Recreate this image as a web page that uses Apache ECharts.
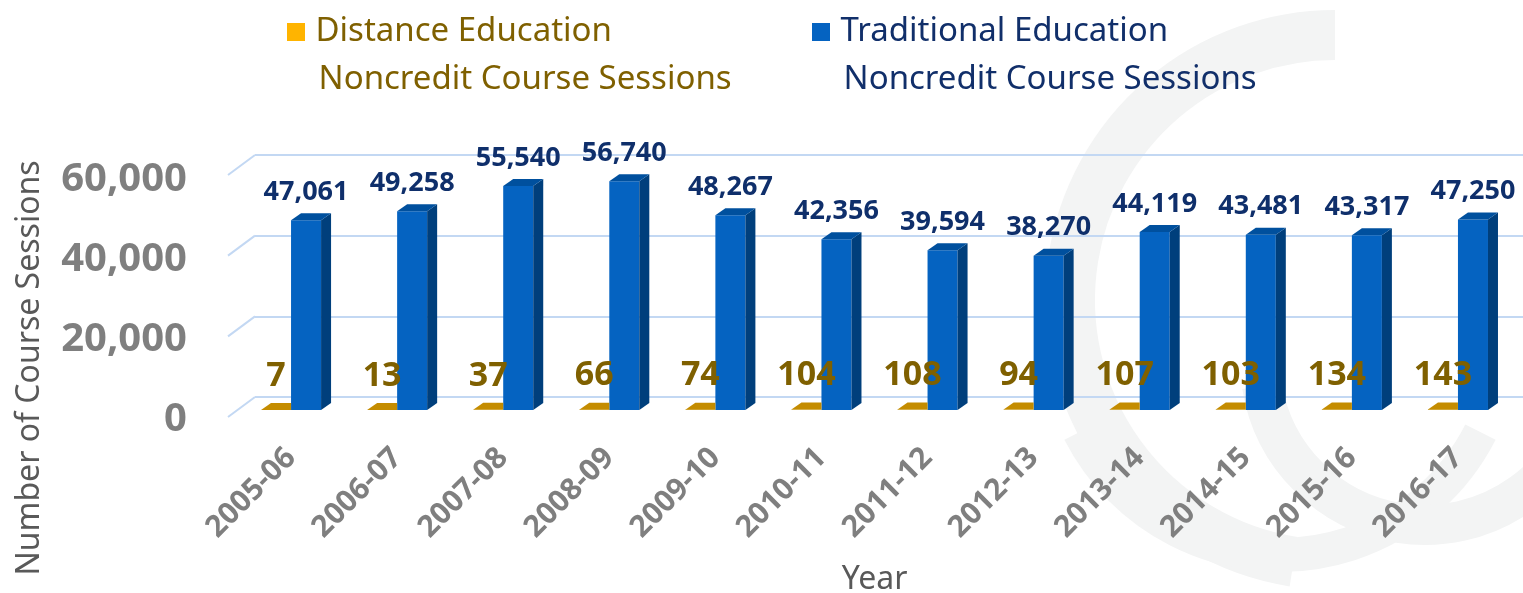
<!DOCTYPE html>
<html>
<head>
<meta charset="utf-8">
<script src="https://cdn.jsdelivr.net/npm/echarts@6/dist/echarts.min.js"></script>
<style>
html, body { margin: 0; padding: 0; background: #fff; }
#chart { width: 1523px; height: 593px; }
</style>
</head>
<body>
<div id="chart"></div>
<script>
var years = ['2005-06', '2006-07', '2007-08', '2008-09', '2009-10', '2010-11', '2011-12', '2012-13', '2013-14', '2014-15', '2015-16', '2016-17']
var distance = [7, 13, 37, 66, 74, 104, 108, 94, 107, 103, 134, 143]
var traditional = [47061, 49258, 55540, 56740, 48267, 42356, 39594, 38270, 44119, 43481, 43317, 47250]
var yTicks = [0, 20000, 40000, 60000]
var seriesNames = ['Distance Education\n Noncredit Course Sessions', 'Traditional Education\n Noncredit Course Sessions']

var FONT = '"Noto Sans", sans-serif'
var DX = 10
var DY = -7
var GRID_LINE = '#c3d8f3'
var WATERMARK = '#f3f4f4'

// bar drawn as front face + side + top, side < 0 means bar sits left of the category center
function bar3d (side, colors, labelColor, labelSize, labelGap) {
  return function (params, api) {
    var v = api.value(1)
    var base = api.coord([api.value(0), 0])
    var top = api.coord([api.value(0), v])
    var w = api.size([1, 0])[0] * 0.283
    var x0 = side < 0 ? base[0] - w : base[0]
    var children = []
    children.push({
      type: 'rect',
      shape: { x: x0, y: top[1], width: w, height: base[1] - top[1] },
      style: { fill: colors[0] }
    })
    if (side > 0) {
      children.push({
        type: 'polygon',
        shape: { points: [[x0 + w, top[1]], [x0 + w + DX, top[1] + DY], [x0 + w + DX, base[1] + DY], [x0 + w, base[1]]] },
        style: { fill: colors[1] }
      })
      children.push({
        type: 'polygon',
        shape: { points: [[x0, top[1]], [x0 + DX, top[1] + DY], [x0 + w + DX, top[1] + DY], [x0 + w, top[1]]] },
        style: { fill: colors[2] }
      })
    } else {
      // top face stops where the neighbouring bar's front begins
      children.push({
        type: 'polygon',
        shape: { points: [[x0, top[1]], [x0 + DX, top[1] + DY], [x0 + w, top[1] + DY], [x0 + w, top[1]]] },
        style: { fill: colors[2] }
      })
    }
    children.push({
      type: 'text',
      style: {
        text: echarts.format.addCommas(v),
        x: x0 + w / 2,
        y: top[1] - labelGap,
        align: 'center',
        verticalAlign: 'middle',
        fill: labelColor,
        font: 'bold ' + labelSize + 'px ' + FONT
      }
    })
    return { type: 'group', children: children }
  }
}

function diagonals (params, api) {
  var p = api.coord([0, api.value(1)])
  var x = params.coordSys.x
  return {
    type: 'line',
    shape: { x1: x - 10, y1: p[1] + 7, x2: x + 17, y2: p[1] - 13 },
    style: { stroke: GRID_LINE, lineWidth: 2 }
  }
}

function arc (cx, cy, r, a0, a1, lw) {
  return {
    type: 'arc',
    z: -10,
    silent: true,
    shape: { cx: cx, cy: cy, r: r, startAngle: a0 * Math.PI, endAngle: a1 * Math.PI },
    style: { fill: null, stroke: WATERMARK, lineWidth: lw }
  }
}

var myChart = echarts.init(document.getElementById('chart'))
var legendBase = {
  padding: 0,
  top: -40,
  icon: 'rect',
  itemWidth: 18,
  itemHeight: 18,
  selectedMode: false,
  // leading blank line keeps the square beside the first line
  formatter: function (name) { return '\n\u2006' + name },
  textStyle: { fontFamily: FONT, fontSize: 33, lineHeight: 48 }
}
var option = {
  animation: false,
  backgroundColor: '#fff',
  textStyle: { fontFamily: FONT },
  legend: [
    Object.assign({}, legendBase, { left: 287, data: [{ name: seriesNames[0], textStyle: { color: '#7f6000' } }] }),
    Object.assign({}, legendBase, { left: 812, data: [{ name: seriesNames[1], textStyle: { color: '#112f6a' } }] })
  ],
  graphic: [
    arc(1335, 300, 265, 0.55, 1.5, 50),
    arc(1280, 330, 225, 0.15, 0.85, 34),
    arc(1425, 360, 165, 0.05, 0.95, 40),
    {
      type: 'text',
      x: 30,
      y: 368,
      rotation: Math.PI / 2,
      style: {
        text: 'Number of Course Sessions',
        align: 'center',
        verticalAlign: 'middle',
        fill: '#595959',
        font: '32px ' + FONT
      }
    }
  ],
  grid: [
    // bar plane
    { left: 238, right: 12, top: 168, height: 242, outerBoundsMode: 'none', containLabel: false },
    // back wall
    { left: 255, right: 0, top: 155, height: 242, outerBoundsMode: 'none', containLabel: false },
    // front edge, carries the value labels
    { left: 228, right: 22, top: 180, height: 240, outerBoundsMode: 'none', containLabel: false }
  ],
  xAxis: [
    {
      type: 'category',
      data: years,
      gridIndex: 0,
      axisLine: { show: false },
      axisTick: { show: false },
      axisLabel: {
        interval: 0,
        rotate: 45,
        margin: 43,
        color: '#7f7f7f',
        fontSize: 30,
        fontWeight: 'bold'
      },
      name: 'Year',
      nameLocation: 'middle',
      nameGap: 154,
      nameTextStyle: { color: '#595959', fontSize: 32 }
    },
    { type: 'category', data: years, gridIndex: 1, show: false },
    { type: 'category', data: years, gridIndex: 2, show: false }
  ],
  yAxis: [
    {
      type: 'value',
      gridIndex: 0,
      min: 0,
      max: 60000,
      interval: 20000,
      show: false
    },
    {
      type: 'value',
      gridIndex: 1,
      min: 0,
      max: 60000,
      interval: 20000,
      axisLine: { show: false },
      axisTick: { show: false },
      axisLabel: { show: false },
      splitLine: { lineStyle: { color: GRID_LINE, width: 2 } }
    },
    {
      type: 'value',
      gridIndex: 2,
      min: 0,
      max: 60000,
      interval: 20000,
      axisLine: { show: false },
      axisTick: { show: false },
      splitLine: { show: false },
      axisLabel: {
        margin: 41,
        color: '#7f7f7f',
        fontSize: 40,
        fontWeight: 'bold',
        formatter: function (v) { return echarts.format.addCommas(v) }
      }
    }
  ],
  series: [
    {
      name: 'grid-depth',
      type: 'custom',
      silent: true,
      xAxisIndex: 0,
      yAxisIndex: 0,
      renderItem: diagonals,
      data: yTicks.map(function (v) { return [0, v] }),
      z: 1
    },
    {
      name: seriesNames[1],
      type: 'custom',
      xAxisIndex: 0,
      yAxisIndex: 0,
      itemStyle: { color: '#0563c1' },
      renderItem: bar3d(1, ['#0563c1', '#003f7c', '#00509e'], '#0f2f6b', 27, 28),
      encode: { x: 0, y: 1 },
      data: traditional.map(function (v, i) { return [i, v] }),
      z: 2
    },
    {
      name: seriesNames[0],
      type: 'custom',
      xAxisIndex: 0,
      yAxisIndex: 0,
      itemStyle: { color: '#ffb400' },
      renderItem: bar3d(-1, ['#bf8f00', '#9c7500', '#c48c00'], '#7f6000', 34, 34),
      encode: { x: 0, y: 1 },
      data: distance.map(function (v, i) { return [i, v] }),
      z: 3
    }
  ]
}
myChart.setOption(option)
window.addEventListener('resize', function () {
  myChart.resize()
})
</script>
</body>
</html>
